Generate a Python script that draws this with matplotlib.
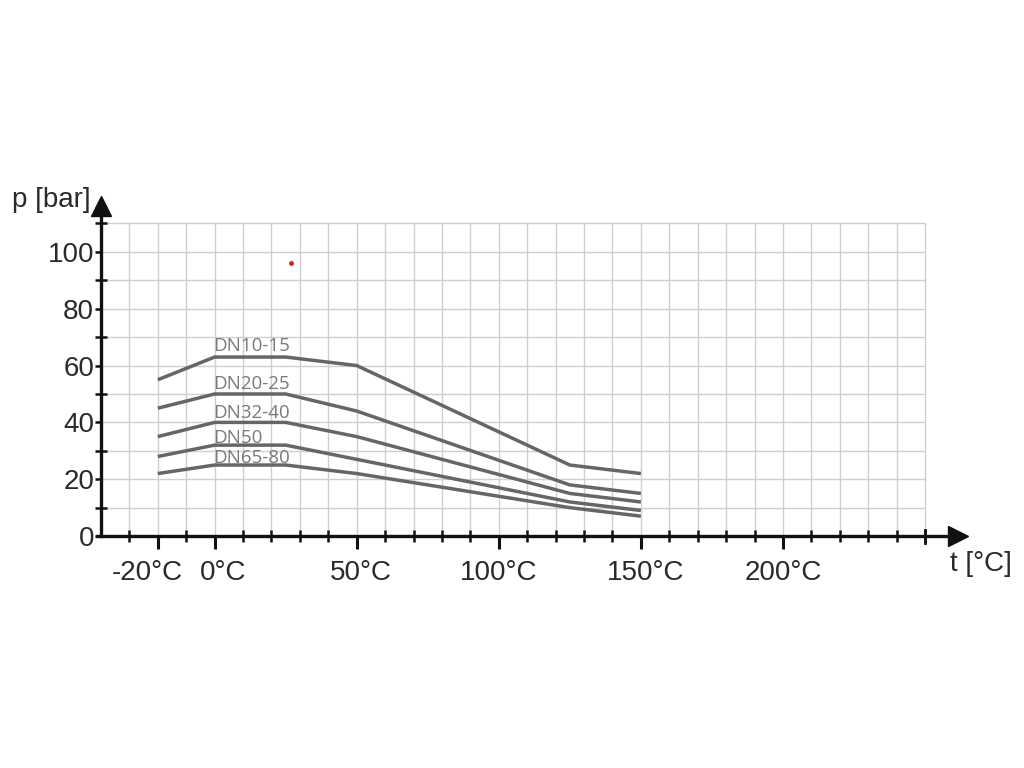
import numpy as np
import matplotlib
matplotlib.use("Agg")
import matplotlib.pyplot as plt
import matplotlib.transforms as mtransforms
from matplotlib.ticker import FixedLocator

# data
temps = [-20, 0, 25, 50, 125, 150]
dn10_15 = [55, 63, 63, 60, 25, 22]
dn20_25 = [45, 50, 50, 44, 18, 15]
dn32_40 = [35, 40, 40, 35, 15, 12]
dn50 = [28, 32, 32, 27, 12, 9]
dn65_80 = [22, 25, 25, 22, 10, 7]

series = [dn10_15, dn20_25, dn32_40, dn50, dn65_80]
labels = ["DN10-15", "DN20-25", "DN32-40", "DN50", "DN65-80"]
label_y = [67, 53.5, 43.2, 34.6, 27.3]

xtick_vals = [-20, 0, 50, 100, 150, 200]
xtick_text = ["-20°C", "0°C", "50°C", "100°C", "150°C", "200°C"]
ytick_vals = [0, 20, 40, 60, 80, 100]

red_dot = (26.7, 96)

plt.rcParams["font.family"] = ["Liberation Sans", "DejaVu Sans"]

fig = plt.figure(figsize=(10.24, 7.68), dpi=100)
ax = fig.add_axes([0.0986, 0.302, 0.8464, 0.444])
ax.set_xlim(-40, 265)
ax.set_ylim(0, 120)

# grid limited to 250 °C / 110 bar
ax.vlines(np.arange(-30, 251, 10), 0, 110, color="#cfcfcf", lw=1.0, zorder=0)
ax.hlines(np.arange(10, 111, 10), -40, 250, color="#cfcfcf", lw=1.0, zorder=0)

for vals in series:
    ax.plot(temps, vals, color="#666666", lw=2.5, solid_capstyle="butt", zorder=3)

for txt, yy in zip(labels, label_y):
    ax.text(-0.5, yy, txt, family=["Open Sans", "DejaVu Sans"], fontsize=13.5,
            color="#7a7a7a", ha="left", va="center", zorder=4)

ax.plot(*red_dot, "o", color="#d62020", ms=2.5, zorder=5)

# axes look
for s in ["top", "right"]:
    ax.spines[s].set_visible(False)
for s in ["left", "bottom"]:
    ax.spines[s].set_linewidth(2.4)
    ax.spines[s].set_color("#111111")
ax.spines["bottom"].set_bounds(-41.5, 261)
ax.spines["left"].set_bounds(0, 116)

ax.set_xticks(xtick_vals)
ax.set_xticklabels(xtick_text, fontsize=20, color="#2a2a2a")
ax.xaxis.set_minor_locator(FixedLocator(np.arange(-30, 251, 10)))
ax.tick_params(axis="x", which="major", direction="out", length=9, width=2.2,
               pad=8, color="#111111")
ax.tick_params(axis="x", which="minor", direction="inout", length=9, width=1.8,
               color="#111111")
# nudge the crowded labels apart like the reference
shifts = {"-20°C": -10, "0°C": 8, "50°C": 4, "150°C": 5}
for lab in ax.get_xticklabels():
    dx = shifts.get(lab.get_text(), 0)
    if dx:
        lab.set_transform(lab.get_transform() +
                          mtransforms.ScaledTranslation(dx / 100, 0, fig.dpi_scale_trans))
# longer tick at 250 without label
ax.plot([250, 250], [-2.5, 2], color="#111111", lw=2.0, clip_on=False, zorder=6)

ax.set_yticks(ytick_vals)
ax.set_yticklabels([str(v) for v in ytick_vals], fontsize=20, color="#2a2a2a")
ax.yaxis.set_minor_locator(FixedLocator(np.arange(10, 111, 10)))
ax.tick_params(axis="y", which="major", direction="out", length=4, width=1.8,
               pad=1, color="#111111")
ax.tick_params(axis="y", which="minor", direction="inout", length=9, width=1.8,
               color="#111111")

# arrow heads
ax.plot(261.5, 0, ">", color="#111111", ms=15, clip_on=False, zorder=7)
ax.plot(-40, 116, "^", color="#111111", ms=15, clip_on=False, zorder=7)

fig.text(12 / 1024, 1 - 200 / 768, "p [bar]", fontsize=20, color="#2a2a2a",
         ha="left", va="center")
fig.text(950 / 1024, 1 - 564 / 768, "t [°C]", fontsize=20, color="#2a2a2a",
         ha="left", va="center")

fig.savefig("out.png", dpi=100)
